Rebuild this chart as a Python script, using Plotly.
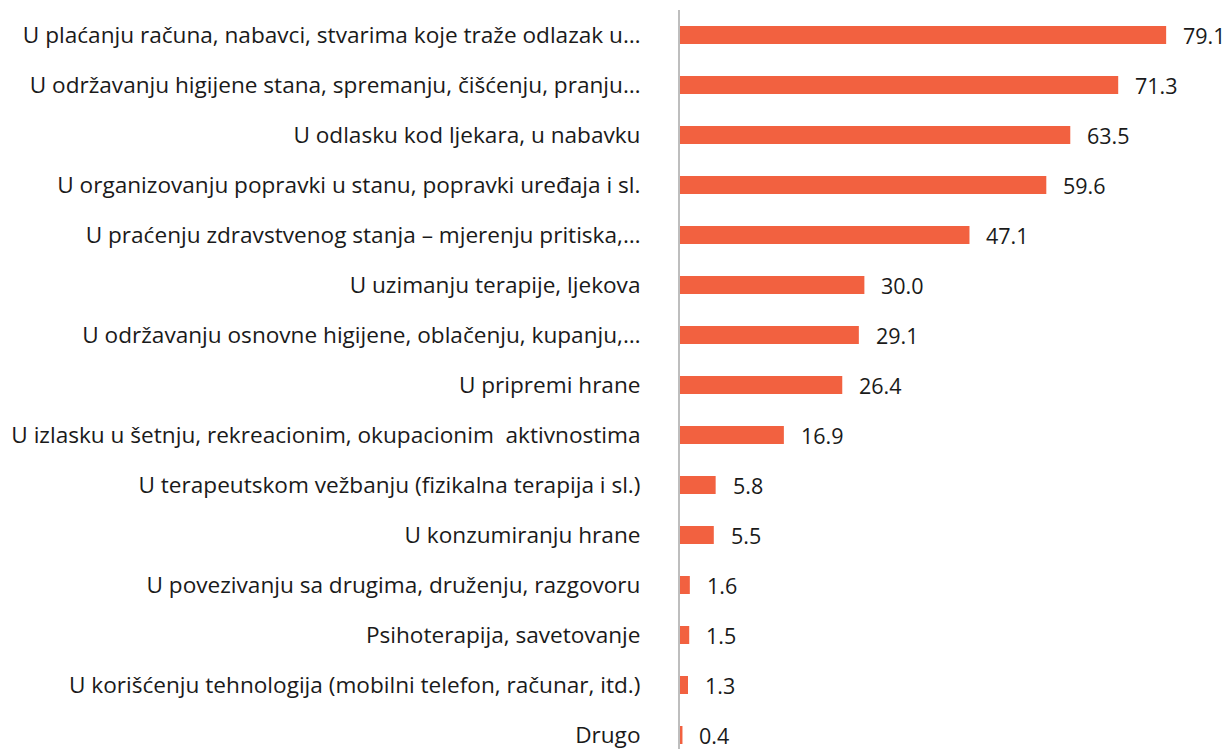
import plotly.graph_objects as go

categories = [
    "U plaćanju računa, nabavci, stvarima koje traže odlazak u…",
    "U održavanju higijene stana, spremanju, čišćenju, pranju…",
    "U odlasku kod ljekara, u nabavku",
    "U organizovanju popravki u stanu, popravki uređaja i sl.",
    "U praćenju zdravstvenog stanja – mjerenju pritiska,…",
    "U uzimanju terapije, ljekova",
    "U održavanju osnovne higijene, oblačenju, kupanju,…",
    "U pripremi hrane",
    "U izlasku u šetnju, rekreacionim, okupacionim  aktivnostima",
    "U terapeutskom vežbanju (fizikalna terapija i sl.)",
    "U konzumiranju hrane",
    "U povezivanju sa drugima, druženju, razgovoru",
    "Psihoterapija, savetovanje",
    "U korišćenju tehnologija (mobilni telefon, računar, itd.)",
    "Drugo",
]
values = [79.1, 71.3, 63.5, 59.6, 47.1, 30.0, 29.1, 26.4, 16.9, 5.8, 5.5, 1.6, 1.5, 1.3, 0.4]

FONT = "Open Sans"
fig = go.Figure(go.Bar(
    x=values, y=categories, orientation="h",
    marker=dict(color="#F26140", line=dict(width=0)),
    width=0.36,
))
for c, v in zip(categories, values):
    fig.add_annotation(x=v, y=c, text=f"{v:.1f}", showarrow=False,
                       xanchor="left", xshift=15, font=dict(size=21.5, color="#1a1a1a", family=FONT))

fig.update_layout(
    width=1232, height=749,
    margin=dict(l=672, r=13, t=2, b=0),
    plot_bgcolor="white", paper_bgcolor="white",
    showlegend=False,
    font=dict(family=FONT, size=22.6, color="#1a1a1a"),
    xaxis=dict(range=[0, 89], visible=False, showgrid=False, zeroline=False),
    yaxis=dict(type="category", categoryorder="array", categoryarray=categories,
               range=[14.44, -0.5], showline=True, linecolor="#BEBEBE", linewidth=2,
               showgrid=False, ticks="", ticklabelstandoff=33, automargin=False,
               tickfont=dict(size=22.6, family=FONT, color="#1a1a1a")),
)
fig.write_html("out.html")
